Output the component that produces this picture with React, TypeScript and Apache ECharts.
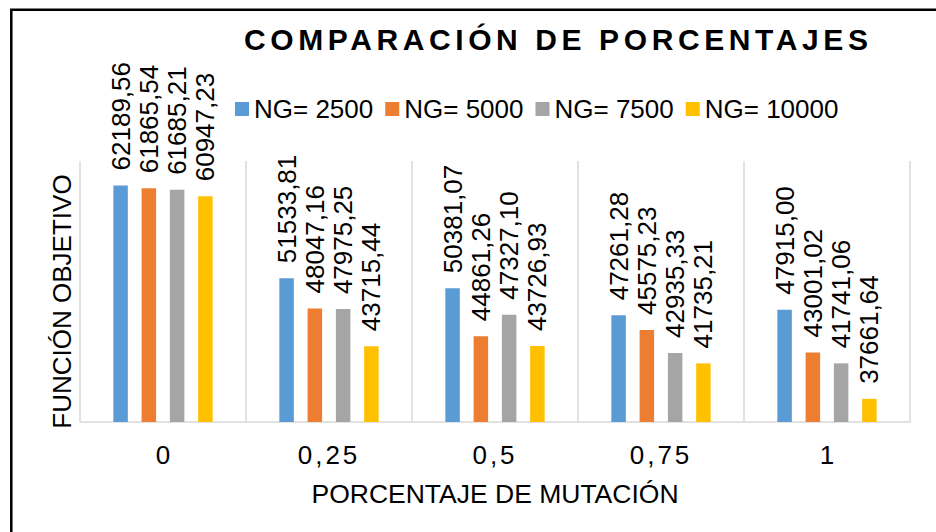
import React, { useEffect, useRef } from "react";
import * as echarts from "echarts";

const TITLE = "COMPARACIÓN DE PORCENTAJES";
const X_NAME = "PORCENTAJE DE MUTACIÓN";
const Y_NAME = "FUNCIÓN OBJETIVO";

const categories = ["0", "0,25", "0,5", "0,75", "1"];
const seriesNames = ["NG= 2500", "NG= 5000", "NG= 7500", "NG= 10000"];
const colors = ["#5B9BD5", "#ED7D31", "#A5A5A5", "#FFC000"];

const ng2500 = [62189.56, 51533.81, 50381.07, 47261.28, 47915.0];
const ng5000 = [61865.54, 48047.16, 44861.26, 45575.23, 43001.02];
const ng7500 = [61685.21, 47975.25, 47327.1, 42935.33, 41741.06];
const ng10000 = [60947.23, 43715.44, 43726.93, 41735.21, 37661.64];

const seriesData = [ng2500, ng5000, ng7500, ng10000];

const FONT = "'Liberation Sans', Arial, Helvetica, sans-serif";

export default function App() {
  const ref = useRef<HTMLDivElement>(null);

  useEffect(() => {
    const el = ref.current;
    if (!el) return;
    const chart = echarts.init(el, undefined, { renderer: "svg" });

    const applySpacing = () => {
      el.querySelectorAll("text").forEach((t) => {
        const s = t.textContent || "";
        if (s === TITLE) (t as any).style.letterSpacing = "4.6px";
        else if (s.indexOf(",") >= 0 && categories.indexOf(s) >= 0)
          (t as any).style.letterSpacing = "3px";
      });
    };

    chart.on("finished", applySpacing);

    chart.setOption({
      animation: false,
      backgroundColor: "#ffffff",
      textStyle: { fontFamily: FONT, color: "#000" },
      title: {
        text: TITLE,
        left: 244,
        top: 24,
        padding: 0,
        textStyle: {
          fontFamily: FONT,
          fontSize: 30,
          fontWeight: "bold",
          color: "#000",
        },
      },
      legend: {
        left: 235,
        top: 96,
        padding: 0,
        itemWidth: 14,
        itemHeight: 14,
        itemGap: 12,
        icon: "rect",
        data: seriesNames,
        textStyle: { fontFamily: FONT, fontSize: 26, color: "#000" },
      },
      grid: {
        left: 80,
        right: 26,
        top: 161,
        bottom: 110,
        containLabel: false,
        outerBoundsMode: "none",
      },
      xAxis: {
        type: "category",
        data: categories,
        name: X_NAME,
        nameLocation: "middle",
        nameGap: 58,
        nameTextStyle: { fontFamily: FONT, fontSize: 26.5, color: "#000" },
        axisLine: { show: true, lineStyle: { color: "#d9d9d9", width: 1.5 } },
        axisTick: { show: false },
        axisLabel: {
          fontFamily: FONT,
          fontSize: 26,
          color: "#000",
          margin: 20,
        },
        splitLine: {
          show: true,
          lineStyle: { color: "#d9d9d9", width: 1.5 },
        },
      },
      yAxis: {
        type: "value",
        min: 35000,
        max: 65000,
        name: Y_NAME,
        nameLocation: "middle",
        nameGap: 5,
        nameTextStyle: {
          fontFamily: FONT,
          fontSize: 26,
          color: "#000",
          padding: [0, 20, 0, 0],
        },
        axisLine: { show: false },
        axisTick: { show: false },
        axisLabel: { show: false },
        splitLine: { show: false },
      },
      graphic: [
        {
          type: "rect",
          silent: true,
          shape: { x: 11.3, y: 9.7, width: 980, height: 580 },
          style: { fill: "none", stroke: "#000", lineWidth: 2.5 },
        },
      ],
      series: seriesData.map((d, i) => ({
        type: "bar",
        name: seriesNames[i],
        data: d,
        barWidth: 14.5,
        barGap: "95%",
        itemStyle: { color: colors[i] },
        label: {
          show: true,
          position: "top",
          distance: 15,
          rotate: 90,
          align: "left",
          verticalAlign: "middle",
          fontFamily: FONT,
          fontSize: 26,
          color: "#000",
          formatter: (p: any) => Number(p.value).toFixed(2).replace(".", ","),
        },
      })),
    });

    applySpacing();
    const raf = requestAnimationFrame(applySpacing);

    return () => {
      cancelAnimationFrame(raf);
      chart.dispose();
    };
  }, []);

  return (
    <div
      ref={ref}
      style={{ position: "fixed", left: 0, top: 0, width: 936, height: 532 }}
    />
  );
}
